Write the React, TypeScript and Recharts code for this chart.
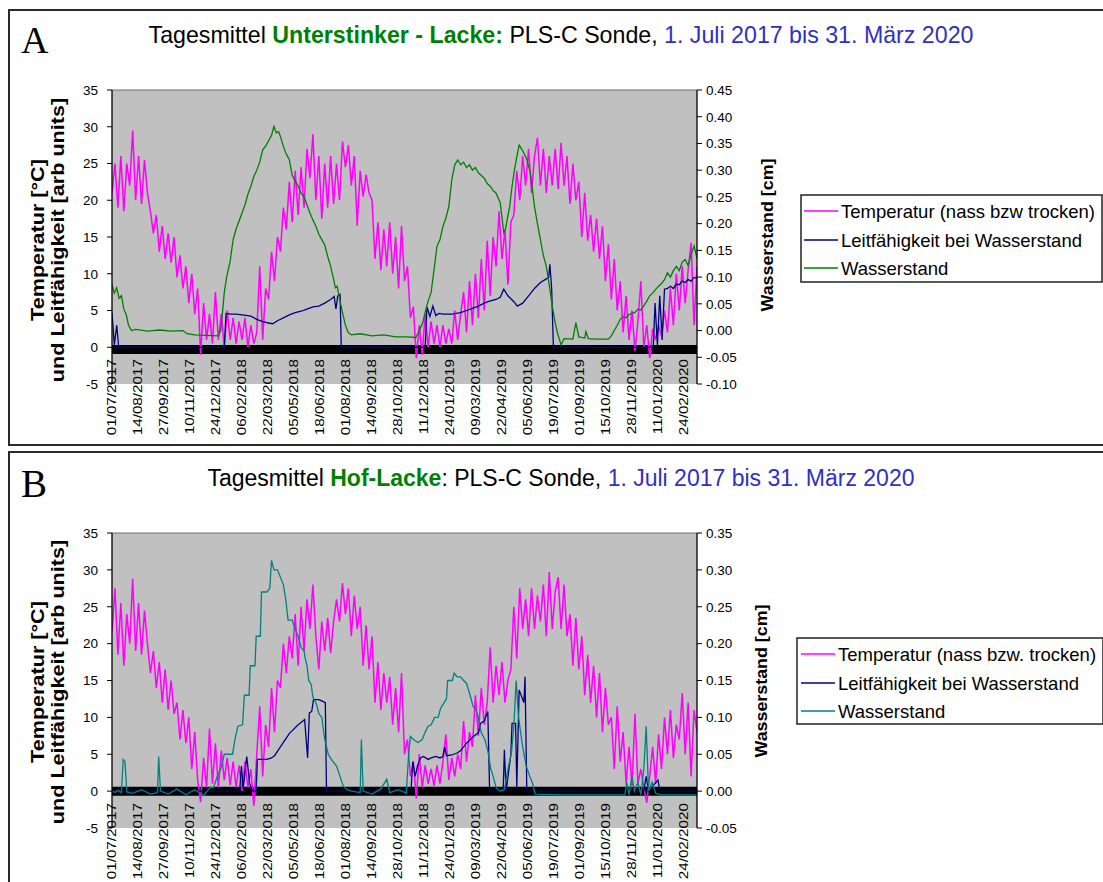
import React from 'react';
import { LineChart, Line, XAxis, YAxis, CartesianGrid, ReferenceLine } from 'recharts';

const SANS = "'Liberation Sans', Arial, Helvetica, sans-serif";
const SERIF = "'Liberation Serif', 'Times New Roman', serif";

// x axis: day index since 01/07/2017
const TICK_DAYS = [0, 44, 88, 132, 176, 220, 264, 308, 352, 396, 440, 484, 528, 572, 616, 660, 704, 748, 792, 836, 880, 924, 968];
const TICK_LABELS = ['01/07/2017', '14/08/2017', '27/09/2017', '10/11/2017', '24/12/2017', '06/02/2018', '22/03/2018', '05/05/2018', '18/06/2018', '01/08/2018', '14/09/2018', '28/10/2018', '11/12/2018', '24/01/2019', '09/03/2019', '22/04/2019', '05/06/2019', '19/07/2019', '01/09/2019', '15/10/2019', '28/11/2019', '11/01/2020', '24/02/2020'];
const X_DOMAIN: [number, number] = [0, 990];
const LEFT_TICKS = [-5, 0, 5, 10, 15, 20, 25, 30, 35];
const RIGHT_TICKS_A = [-0.1, -0.05, 0, 0.05, 0.1, 0.15, 0.2, 0.25, 0.3, 0.35, 0.4, 0.45];
const RIGHT_TICKS_B = [-0.05, 0, 0.05, 0.1, 0.15, 0.2, 0.25, 0.3, 0.35];

// temperature: one reading every 5 days
const TEMP_STEP = 5;
const TEMP_A = [
  21, 25, 19, 26, 18.5, 25, 22, 29.5, 20, 26,
  19.5, 25.5, 21, 18.5, 15.5, 18, 13, 16.5, 12, 15.5,
  11.5, 15, 9.5, 12.5, 8, 11, 6, 10, 4.5, 8,
  -1, 6, 1, 4.5, 0.5, 7.5, 1, 4.5, 0, 5,
  1, 4, 0.5, 3.5, 1, 4, 0, 3, 0.5, 2,
  11, 1, 8, 6.5, 13, 9, 15, 13, 19, 16,
  22.5, 17, 24, 18, 24.5, 19, 27, 23, 29, 20,
  26, 17.5, 25, 19, 26, 19.5, 25, 20, 28, 24.5,
  27.5, 22, 26, 16.5, 24, 20.5, 23.5, 21, 20, 12,
  17, 10.5, 16, 11, 17, 10, 15, 8, 16.5, 9,
  11, 4, 5.5, -1.5, 3, -1, 4.5, 0, 3.5, 0.5,
  3, 0, 3, 0.5, 2.5, 0.5, 5, 1, 4.5, 7.5,
  2, 9, 3, 10, 4, 12, 5, 14.5, 7, 15,
  11, 18.5, 12, 16, 8.5, 17, 18, 24, 20, 26,
  22, 27, 21, 26, 28.5, 22, 27, 21, 26, 22,
  27, 21.5, 27.8, 22, 26, 19.5, 25, 20, 22.5, 15,
  21, 14.5, 18, 13, 17.5, 12, 16.5, 9, 14, 6.5,
  12, 5, 9, 2, 7, 1, 5, -0.5, 3.5, 9,
  0, 3, -1.5, 2.5, 1, 3, 1.5, 5, 2, 8,
  3, 10, 5, 11, 6, 10.5, 14.2, 3, 11,
];
const TEMP_B = [
  21.5, 27.5, 18.5, 25.5, 17, 24, 20, 28.8, 19, 25.5,
  18.5, 24.5, 20, 16, 19, 14, 17.5, 12, 16.5, 11,
  15, 10.5, 12, 7, 11, 6.5, 10, 3, 8, 1.5,
  -1.5, 4.5, 0.5, 8.5, 1, 6.5, 0.5, 5.5, 1.5, 4.5,
  0.8, 4, 0.5, 3.5, 0, 4, 0.5, 3, -2, 5,
  11.5, 2, 9, 6, 14, 8, 15, 14, 20, 16,
  21, 18, 24, 17, 25, 19, 26, 22, 28, 21,
  16.5, 23, 19, 23.5, 18.7, 23, 26, 23, 28.2, 24,
  27.5, 21, 26.5, 22, 25, 17, 22.5, 16.5, 21, 12,
  17.5, 11, 16, 12, 15.5, 9, 14, 8, 16, 5,
  7, 2, 4, -1, 5, 0.5, 3.5, 1, 3, 0.7,
  3.5, 1, 4, 7.7, 1.5, 4.5, 2, 5, 3, 9.5,
  4, 8, 6, 13, 7.5, 14, 9, 12, 19.5, 12,
  17, 13, 17.5, 12, 15, 16.5, 25, 18, 27.5, 22,
  26, 21, 27.5, 22, 26.5, 23, 28, 21, 29.7, 22,
  27, 29, 22, 28, 21, 24, 17, 23.5, 16.5, 21,
  13, 18.5, 12, 17, 10, 16, 8, 14, 9, 10,
  3, 11.5, 4, 8, 1, 6, 0.7, 10.5, 1, 3,
  0.5, -1.6, 2, 6, 1, 7.7, 3, 10, 5, 11,
  4.5, 9, 7, 13.3, 5, 12, 2, 11, 8,
];

// [day, value]
const LEIT_A: [number, number][] = [
  [0, 4.7], [4, 0.3], [8, 3], [11, 0.3], [14, 0], [190, 0], [193, 4.6], [200, 4.5], [210, 4.5], [220, 4.4],
  [230, 4.3], [236, 4.2], [245, 3.8], [255, 3.5], [265, 3.3], [272, 3.2], [280, 3.6], [290, 4.0], [300, 4.4], [310, 4.7],
  [320, 4.9], [330, 5.2], [340, 5.5], [350, 5.6], [360, 6.0], [370, 6.5], [376, 6.9], [379, 5.2], [382, 7.0], [386, 7.2],
  [388, 0], [530, 0], [533, 5.5], [538, 4.2], [543, 5.6], [548, 4.3], [553, 4.6], [560, 4.5], [575, 4.5], [590, 4.7],
  [600, 5.0], [610, 5.3], [620, 5.6], [630, 6.0], [640, 6.3], [650, 6.5], [657, 6.8], [663, 7.9], [670, 7.0], [680, 6.2],
  [686, 5.6], [695, 6.0], [705, 7.0], [715, 8.0], [725, 8.8], [735, 9.3], [739, 9.5], [741, 11.3], [744, 8], [747, 0],
  [916, 0], [919, 6], [923, 0.3], [927, 7], [931, 1], [935, 7.9], [940, 8.0], [945, 8.3], [950, 8.0], [955, 8.6],
  [960, 8.5], [965, 9.0], [970, 8.8], [975, 9.2], [980, 9.0], [985, 9.5], [990, 9.4],
];
const WASSER_A: [number, number][] = [
  [0, 0.086], [4, 0.07], [8, 0.08], [12, 0.06], [16, 0.065], [20, 0.04], [24, 0.03], [28, 0.01], [33, 0.0], [40, 0.002],
  [60, -0.001], [80, 0.001], [100, -0.001], [120, 0.0], [127, -0.006], [140, -0.008], [160, -0.009], [180, -0.01], [184, 0.0], [187, 0.034],
  [190, 0.071], [194, 0.1], [200, 0.13], [205, 0.17], [210, 0.19], [215, 0.205], [220, 0.22], [225, 0.235], [230, 0.255], [235, 0.27],
  [240, 0.288], [245, 0.3], [250, 0.315], [255, 0.338], [260, 0.345], [265, 0.355], [270, 0.365], [274, 0.382], [278, 0.37], [282, 0.372],
  [286, 0.36], [290, 0.344], [295, 0.33], [300, 0.32], [305, 0.29], [310, 0.28], [315, 0.27], [320, 0.257], [325, 0.25], [330, 0.235],
  [335, 0.22], [340, 0.207], [345, 0.195], [350, 0.18], [355, 0.17], [360, 0.16], [365, 0.139], [370, 0.12], [375, 0.096], [378, 0.08],
  [381, 0.083], [385, 0.06], [390, 0.034], [395, 0.01], [400, -0.004], [405, -0.008], [420, -0.006], [440, -0.01], [460, -0.008], [480, -0.012],
  [500, -0.012], [514, -0.013], [518, -0.005], [522, 0.005], [526, 0.015], [530, 0.035], [535, 0.055], [540, 0.071], [545, 0.114], [550, 0.158],
  [555, 0.17], [560, 0.195], [565, 0.21], [570, 0.232], [575, 0.282], [580, 0.31], [585, 0.319], [590, 0.31], [595, 0.315], [600, 0.305],
  [605, 0.31], [610, 0.3], [615, 0.305], [620, 0.295], [625, 0.29], [630, 0.285], [635, 0.275], [640, 0.27], [645, 0.262], [650, 0.257],
  [657, 0.239], [663, 0.183], [666, 0.19], [670, 0.215], [673, 0.232], [677, 0.27], [681, 0.3], [685, 0.325], [689, 0.347], [693, 0.34],
  [697, 0.332], [702, 0.32], [708, 0.295], [715, 0.232], [720, 0.2], [725, 0.17], [730, 0.14], [735, 0.12], [740, 0.085], [745, 0.046],
  [750, 0.015], [754, -0.005], [760, -0.027], [765, -0.015], [780, -0.016], [785, 0.015], [790, -0.012], [800, -0.014], [802, -0.002], [806, -0.015],
  [820, -0.016], [840, -0.016], [845, -0.01], [850, 0.0], [855, 0.01], [860, 0.021], [865, 0.026], [870, 0.024], [875, 0.03], [880, 0.032],
  [885, 0.034], [890, 0.04], [895, 0.038], [900, 0.046], [905, 0.055], [910, 0.065], [915, 0.07], [920, 0.077], [925, 0.083], [930, 0.088],
  [935, 0.095], [940, 0.108], [945, 0.1], [950, 0.112], [955, 0.12], [960, 0.112], [965, 0.128], [970, 0.133], [975, 0.122], [980, 0.142],
  [985, 0.158], [990, 0.135],
];
const LEIT_B: [number, number][] = [
  [0, 0], [216, 0], [219, 3.4], [222, 0.3], [228, 4.7], [233, 1], [238, 0], [244, 0], [246, 4.3], [262, 4.3],
  [270, 4.5], [275, 4.8], [280, 5.4], [285, 6.0], [290, 6.6], [295, 7.2], [300, 7.8], [305, 8.2], [310, 8.6], [315, 9.0],
  [320, 9.3], [326, 9.7], [331, 4.5], [334, 10.6], [338, 10.8], [341, 12.4], [350, 12.4], [356, 12.2], [361, 12.0], [363, 0],
  [506, 0], [509, 4.0], [513, 2], [517, 3.4], [522, 4.5], [527, 4.7], [535, 4.3], [540, 4.5], [548, 4.7], [555, 4.5],
  [560, 4.7], [563, 6], [566, 4.8], [575, 4.9], [585, 5.2], [590, 5.5], [595, 6.0], [600, 6.5], [605, 6.9], [610, 7.3],
  [615, 7.6], [620, 7.9], [624, 9.2], [630, 9.5], [636, 10.8], [639, 0], [662, 0], [664, 5.6], [667, 0], [675, 5],
  [677, 9.2], [683, 9.2], [685, 0.5], [689, 13.7], [697, 12], [699, 15.5], [702, 0], [900, 0], [904, 2], [908, 0],
  [924, 1.5], [927, 0], [990, 0],
];
const WASSER_B: [number, number][] = [
  [0, 0], [5, -0.002], [10, 0.001], [16, -0.002], [19, 0.043], [22, 0.04], [25, -0.001], [35, -0.003], [50, 0.002], [65, -0.004],
  [77, -0.002], [79, 0.047], [82, 0.0], [95, -0.004], [110, 0.003], [125, -0.005], [140, 0.002], [155, -0.006], [165, 0.004], [172, 0.005],
  [178, 0.02], [184, 0.03], [190, 0.05], [196, 0.05], [204, 0.05], [208, 0.07], [213, 0.088], [221, 0.09], [224, 0.13], [232, 0.13],
  [234, 0.17], [242, 0.17], [244, 0.21], [251, 0.21], [253, 0.27], [262, 0.27], [267, 0.275], [270, 0.313], [274, 0.3], [280, 0.3],
  [285, 0.29], [290, 0.28], [294, 0.26], [298, 0.232], [305, 0.232], [310, 0.22], [315, 0.21], [320, 0.195], [325, 0.19], [327, 0.18],
  [330, 0.17], [333, 0.15], [337, 0.145], [340, 0.128], [346, 0.118], [350, 0.105], [355, 0.1], [360, 0.07], [366, 0.05], [372, 0.042],
  [380, 0.034], [386, 0.02], [391, 0.007], [398, 0.002], [405, 0], [420, -0.002], [422, 0.07], [425, 0.0], [440, -0.004], [455, 0.003],
  [465, 0.016], [470, -0.002], [485, 0.002], [498, -0.003], [502, 0.05], [505, 0.074], [510, 0.07], [518, 0.066], [525, 0.07], [530, 0.08],
  [535, 0.088], [540, 0.09], [546, 0.1], [552, 0.1], [556, 0.112], [562, 0.12], [566, 0.125], [568, 0.15], [576, 0.15], [579, 0.16],
  [584, 0.155], [590, 0.155], [595, 0.15], [600, 0.146], [605, 0.133], [611, 0.115], [616, 0.11], [620, 0.1], [625, 0.079], [631, 0.07],
  [636, 0.055], [641, 0.03], [645, 0.02], [650, 0.005], [656, 0.0], [664, 0.002], [670, 0.03], [676, 0.052], [680, 0.088], [684, 0.15],
  [688, 0.1], [695, 0.06], [701, 0.034], [707, 0.02], [712, 0.01], [716, -0.004], [760, -0.005], [800, -0.005], [840, -0.005], [868, -0.005],
  [871, 0.012], [875, -0.005], [880, 0.02], [884, 0.0], [890, 0.012], [895, -0.005], [900, 0.03], [904, 0.088], [908, 0.0], [914, 0.012],
  [920, -0.003], [930, -0.005], [990, -0.005],
];
// the black zero band under both plots
const BAND_A: [number, number][] = [[0, -0.3], [990, -0.3]];
const BAND_B: [number, number][] = [[0, 0], [990, 0]];

const SERIES_NAMES_A = ['Temperatur (nass bzw trocken)', 'Leitfähigkeit bei Wasserstand', 'Wasserstand'];
const SERIES_NAMES_B = ['Temperatur (nass bzw. trocken)', 'Leitfähigkeit bei Wasserstand', 'Wasserstand'];
const C_TEMP = '#FF00FF';
const C_LEIT = '#000080';
const C_WASSER_A = '#008000';
const C_WASSER_B = '#008080';

const gridRows = (vals: number[]) => vals.map((v, i) => ({ day: i * TEMP_STEP, v }));
const pairRows = (pairs: [number, number][]) => pairs.map(([day, v]) => ({ day, v }));

const XTick = (props: any) => {
  const { x, y, payload } = props;
  const idx = TICK_DAYS.indexOf(payload.value);
  const label = idx >= 0 ? TICK_LABELS[idx] : '';
  return (
    <text
      transform={`translate(${x},${y - 25}) rotate(-90) scale(1.22,1)`}
      textAnchor="end"
      dominantBaseline="central"
      fontSize={12.5}
      fontFamily={SANS}
      fill="#000"
    >
      {label}
    </text>
  );
};

type PanelProps = {
  top: number;
  height: number;
  marginTop: number;
  marginBottom: number;
  temp: number[];
  leit: [number, number][];
  wasser: [number, number][];
  band: [number, number][];
  bandWidth: number;
  wasserColor: string;
  rightDomain: [number, number];
  rightTicks: number[];
  names: string[];
};

function Panel(p: PanelProps) {
  return (
    <div style={{ position: 'absolute', left: 0, top: p.top }}>
      <LineChart
        width={1103}
        height={p.height}
        margin={{ top: p.marginTop, right: 346, bottom: p.marginBottom, left: 62 }}
      >
        <CartesianGrid fill="#C0C0C0" stroke="none" horizontal={false} vertical={false} />
        <XAxis
          dataKey="day"
          type="number"
          domain={X_DOMAIN}
          ticks={TICK_DAYS}
          interval={0}
          axisLine={false}
          tickLine={false}
          tickSize={0}
          tickMargin={0}
          height={50}
          allowDataOverflow
          tick={(props: any) => <XTick {...props} />}
        />
        <YAxis
          type="number"
          domain={[-5, 35]}
          ticks={LEFT_TICKS}
          interval={0}
          width={50}
          allowDataOverflow
          axisLine={{ stroke: '#000', strokeWidth: 1.3 }}
          tickLine={{ stroke: '#000' }}
          tickSize={5}
          tickMargin={9}
          tick={{ fontSize: 13.5, fill: '#000', fontFamily: SANS }}
        />
        <YAxis
          yAxisId="r"
          orientation="right"
          type="number"
          domain={p.rightDomain}
          ticks={p.rightTicks}
          interval={0}
          width={60}
          allowDataOverflow
          axisLine={{ stroke: '#000', strokeWidth: 1.3 }}
          tickLine={{ stroke: '#000' }}
          tickSize={5}
          tickMargin={4}
          tickFormatter={(v: number) => v.toFixed(2)}
          tick={{ fontSize: 13.5, fill: '#000', fontFamily: SANS }}
        />
        <ReferenceLine y={35} stroke="#707070" strokeWidth={1} />
        <Line data={pairRows(p.band)} dataKey="v" name="Nulllinie" stroke="#000" strokeWidth={p.bandWidth} dot={false} isAnimationActive={false} legendType="none" />
        <Line data={gridRows(p.temp)} dataKey="v" name={p.names[0]} stroke={C_TEMP} strokeWidth={1.5} dot={false} isAnimationActive={false} />
        <Line data={pairRows(p.leit)} dataKey="v" name={p.names[1]} stroke={C_LEIT} strokeWidth={1.3} dot={false} isAnimationActive={false} />
        <Line yAxisId="r" data={pairRows(p.wasser)} dataKey="v" name={p.names[2]} stroke={p.wasserColor} strokeWidth={1.3} dot={false} isAnimationActive={false} />
      </LineChart>
    </div>
  );
}

function LegendBox(props: { x: number; y: number; w: number; h: number; rows: number[]; lineX: [number, number]; textX: number; names: string[]; colors: string[] }) {
  const { x, y, w, h, rows, lineX, textX, names, colors } = props;
  return (
    <g>
      <rect x={x} y={y} width={w} height={h} fill="#fff" stroke="#222" strokeWidth={1.5} />
      {names.map((n, i) => (
        <g key={n}>
          <line x1={lineX[0]} x2={lineX[1]} y1={rows[i]} y2={rows[i]} stroke={colors[i]} strokeWidth={1.5} />
          <text x={textX} y={rows[i]} dominantBaseline="central" fontSize={18.5} fontFamily={SANS} fill="#000">{n}</text>
        </g>
      ))}
    </g>
  );
}

function RotLabel(props: { x: number; y: number; text: string; size: number; sx: number }) {
  return (
    <text
      transform={`translate(${props.x},${props.y}) rotate(-90) scale(${props.sx},1)`}
      textAnchor="middle"
      dominantBaseline="central"
      fontWeight="bold"
      fontSize={props.size}
      fontFamily={SANS}
      fill="#000"
    >
      {props.text}
    </text>
  );
}

export default function App() {
  return (
    <div style={{ position: 'absolute', left: 0, top: 0, width: 1103, height: 882, overflow: 'hidden', background: '#fff' }}>
      <Panel
        top={0}
        height={450}
        marginTop={90}
        marginBottom={16}
        temp={TEMP_A}
        leit={LEIT_A}
        wasser={WASSER_A}
        band={BAND_A}
        bandWidth={9}
        wasserColor={C_WASSER_A}
        rightDomain={[-0.1, 0.45]}
        rightTicks={RIGHT_TICKS_A}
        names={SERIES_NAMES_A}
      />
      <Panel
        top={452}
        height={430}
        marginTop={81}
        marginBottom={4}
        temp={TEMP_B}
        leit={LEIT_B}
        wasser={WASSER_B}
        band={BAND_B}
        bandWidth={9}
        wasserColor={C_WASSER_B}
        rightDomain={[-0.05, 0.35]}
        rightTicks={RIGHT_TICKS_B}
        names={SERIES_NAMES_B}
      />
      <svg width={1103} height={882} style={{ position: 'absolute', left: 0, top: 0, pointerEvents: 'none' }}>
        <rect x={9} y={10} width={1120} height={435} fill="none" stroke="#2a2a2a" strokeWidth={2} />
        <rect x={9} y={452} width={1120} height={460} fill="none" stroke="#2a2a2a" strokeWidth={2} />
        <text x={21} y={53} fontFamily={SERIF} fontSize={38} fill="#000">A</text>
        <text x={21} y={497} fontFamily={SERIF} fontSize={39} fill="#000">B</text>
        <text x={561} y={43} textAnchor="middle" fontSize={23.2} fontFamily={SANS} fill="#000" style={{ whiteSpace: 'pre' }}>
          <tspan>Tagesmittel </tspan>
          <tspan fontWeight="bold" fill="#008000">Unterstinker - Lacke:</tspan>
          <tspan> PLS-C Sonde, </tspan>
          <tspan fill="#3030C0">1. Juli 2017 bis 31. März 2020</tspan>
        </text>
        <text x={561} y={486} textAnchor="middle" fontSize={23} fontFamily={SANS} fill="#000" style={{ whiteSpace: 'pre' }}>
          <tspan>Tagesmittel </tspan>
          <tspan fontWeight="bold" fill="#008000">Hof-Lacke</tspan>
          <tspan>: PLS-C Sonde, </tspan>
          <tspan fill="#3030C0">1. Juli 2017 bis 31. März 2020</tspan>
        </text>
        <RotLabel x={38} y={240} text="Temperatur [°C]" size={18} sx={1.2} />
        <RotLabel x={58} y={240} text="und Leitfähigkeit [arb units]" size={18} sx={1.2} />
        <RotLabel x={767} y={235} text="Wasserstand [cm]" size={17} sx={1.05} />
        <RotLabel x={38} y={682} text="Temperatur [°C]" size={18} sx={1.2} />
        <RotLabel x={58} y={682} text="und Leitfähigkeit [arb units]" size={18} sx={1.2} />
        <RotLabel x={761} y={681} text="Wasserstand [cm]" size={17} sx={1.05} />
        <LegendBox x={801} y={195} w={301} h={87} rows={[211, 240, 268]} lineX={[804, 838]} textX={841} names={SERIES_NAMES_A} colors={[C_TEMP, C_LEIT, C_WASSER_A]} />
        <LegendBox x={797} y={638} w={306} h={86} rows={[654, 683, 711]} lineX={[801, 835]} textX={838} names={SERIES_NAMES_B} colors={[C_TEMP, C_LEIT, C_WASSER_B]} />
      </svg>
    </div>
  );
}
